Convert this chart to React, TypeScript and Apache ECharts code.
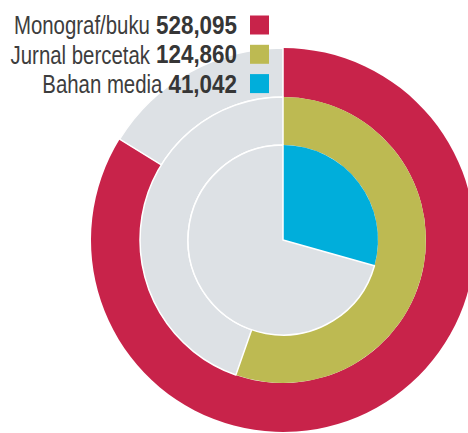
import React, { useEffect, useRef } from "react";
import * as echarts from "echarts";

const categories = ["Monograf/buku", "Jurnal bercetak", "Bahan media"];
const valueLabels = ["528,095", "124,860", "41,042"];
// share of the full circle covered by each ring (outer to inner)
const arcShare = [0.838, 0.5535, 0.2936];
const colors = ["#C8234A", "#BDBA52", "#00AEDB"];
const ringRadii: [number, number][] = [
  [143, 192],
  [95, 143],
  [0, 95],
];

const GREY = "#DDE1E5";
const FONT = "'Liberation Sans', Arial, sans-serif";
const FS = 25;
const SX_REG = 0.816;
const SX_BOLD = 0.897;

function measure(text: string, bold: boolean) {
  const ctx = document.createElement("canvas").getContext("2d");
  if (!ctx) return text.length * FS * 0.55;
  ctx.font = `${bold ? "bold " : ""}${FS}px ${FONT}`;
  return ctx.measureText(text).width;
}

export default function App() {
  const ref = useRef<HTMLDivElement>(null);
  useEffect(() => {
    if (!ref.current) return;
    const chart = echarts.init(ref.current, null, { renderer: "svg" });
    const series = arcShare.map((s, i) => ({
      type: "pie",
      center: [283, 240],
      radius: ringRadii[i],
      startAngle: 90,
      clockwise: true,
      silent: true,
      z: 1,
      label: { show: false },
      labelLine: { show: false },
      emphasis: { disabled: true },
      data: [
        { name: categories[i], value: s, itemStyle: { color: colors[i], borderWidth: 0 } },
        {
          name: "rest" + i,
          value: 1 - s,
          itemStyle: { color: GREY, borderColor: "#ffffff", borderWidth: 1.5 },
        },
      ],
    }));
    const graphic: any[] = [];
    const rightX = 237;
    categories.forEach((c, i) => {
      const cy = 25.5 + i * 29.3;
      const bw = measure(valueLabels[i], true) * SX_BOLD;
      graphic.push({
        type: "text",
        z: 100,
        x: rightX,
        y: cy,
        scaleX: SX_BOLD,
        style: {
          text: valueLabels[i],
          align: "right",
          verticalAlign: "middle",
          fontFamily: FONT,
          fontSize: FS,
          fontWeight: "bold",
          fill: "#363636",
        },
      });
      graphic.push({
        type: "text",
        z: 100,
        x: rightX - bw - 6,
        y: cy,
        scaleX: SX_REG,
        style: {
          text: c,
          align: "right",
          verticalAlign: "middle",
          fontFamily: FONT,
          fontSize: FS,
          fill: "#3d3d3d",
        },
      });
      graphic.push({
        type: "rect",
        z: 100,
        shape: { x: 250, y: cy - 10, width: 19, height: 19 },
        style: { fill: colors[i] },
      });
    });
    chart.setOption({
      animation: false,
      series,
      graphic,
    });
    return () => chart.dispose();
  }, []);
  return (
    <div
      ref={ref}
      style={{ position: "fixed", left: 0, top: 0, width: 468, height: 433, background: "#fff" }}
    />
  );
}
